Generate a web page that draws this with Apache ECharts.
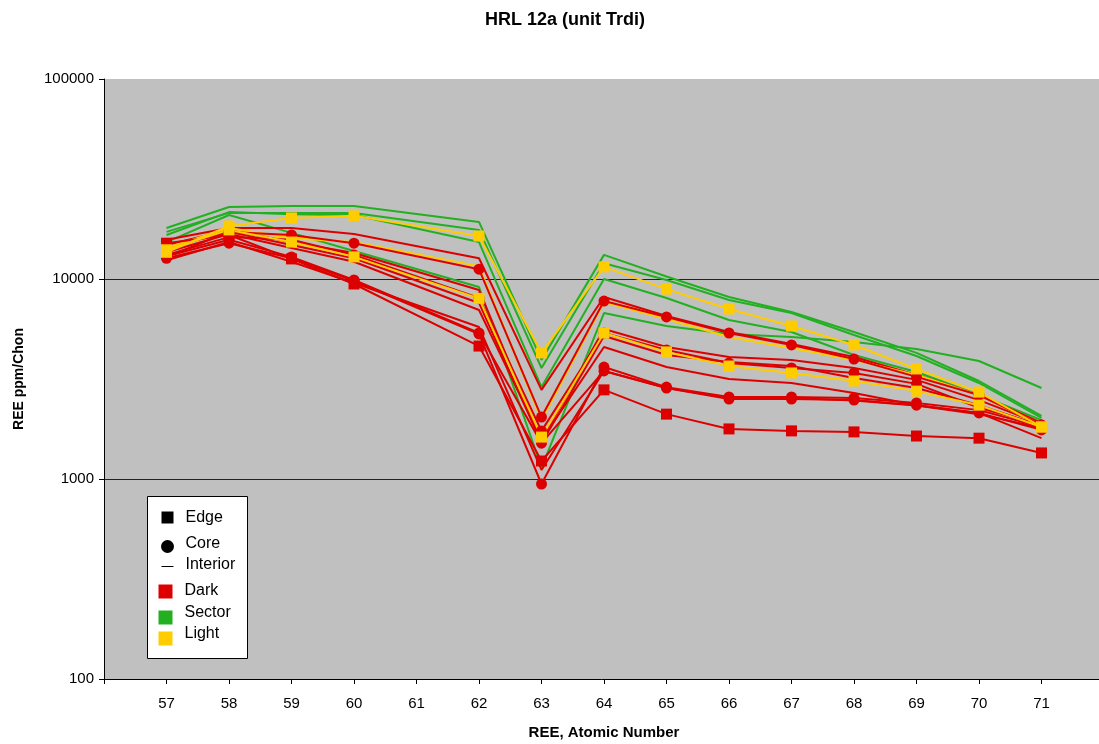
<!DOCTYPE html>
<html>
<head>
<meta charset="utf-8">
<title>HRL 12a (unit Trdi)</title>
<script src="https://cdn.jsdelivr.net/npm/echarts@6/dist/echarts.min.js"></script>
<style>
  html, body { margin: 0; padding: 0; background: #fff; }
  #chart { width: 1099px; height: 744px; }
</style>
</head>
<body>
<div id="chart"></div>
<script>
// atomic numbers that carry data (61 / Pm has none)
var atomicNumbers = [57, 58, 59, 60, 62, 63, 64, 65, 66, 67, 68, 69, 70, 71];
var tickLabels = [57, 58, 59, 60, 61, 62, 63, 64, 65, 66, 67, 68, 69, 70, 71];

// Sector (green) - interior only
var sectorA = [18000, 22900, 23200, 23200, 19300, 3940, 13200, 10300, 8130, 6840, 5430, 4270, 3090, 2070];
var sectorB = [17200, 21400, 21400, 21400, 17600, 3590, 12000, 9890, 7850, 6760, 5250, 4120, 3020, 2020];
var sectorC = [16600, 21600, 21100, 20900, 15300, 2880, 10000, 8040, 6240, 5430, 4170, 3430, 2630, 1970];
var sectorD = [15300, 20900, 17000, 13800, 9120, 1140, 6760, 5820, 5310, 5130, 4840, 4470, 3890, 2850];

// Dark (red)
var darkEdge = [15100, 16600, 12600, 9440, 4620, 1230, 2790, 2110, 1780, 1740, 1720, 1640, 1600, 1350];
var darkCoreA = [12900, 17200, 16600, 15100, 11200, 2040, 7760, 6460, 5370, 4680, 3980, 3240, 2630, 1860];
var darkCoreB = [13200, 16200, 15700, 13200, 8040, 1740, 5370, 4420, 3800, 3590, 3390, 2990, 2270, 1860];
var darkCoreC = [12700, 15100, 12700, 9770, 5310, 944, 3630, 2880, 2570, 2570, 2540, 2400, 2210, 1820];
var darkCoreD = [13000, 15700, 12900, 9890, 5370, 1510, 3470, 2850, 2510, 2510, 2480, 2340, 2140, 1760];
var darkInteriorA = [15700, 18000, 18000, 16800, 12700, 2790, 8130, 6530, 5430, 4730, 4070, 3310, 2630, 1910];
var darkInteriorB = [14800, 17600, 15300, 13500, 8810, 1570, 5620, 4570, 4070, 3940, 3590, 3130, 2480, 1880];
var darkInteriorC = [14300, 17200, 14800, 12700, 7590, 1510, 5190, 4170, 3850, 3670, 3200, 2850, 2340, 1840];
var darkInteriorD = [13600, 16800, 14300, 12200, 7000, 1570, 4570, 3630, 3160, 3020, 2690, 2340, 2140, 1600];
var darkInteriorE = [12400, 15300, 12200, 9550, 5750, 1110, 3470, 2850, 2540, 2540, 2470, 2330, 2110, 1800];

// Light (yellow)
var lightEdgeA = [13600, 18400, 20200, 20700, 16400, 4270, 11500, 8900, 7080, 5820, 4680, 3550, 2720, 1820];
var lightEdgeB = [14000, 17600, 15300, 12900, 8000, 1620, 5370, 4320, 3670, 3390, 3090, 2750, 2340, 1820];
var lightInterior = [14300, 18000, 16000, 15300, 11600, 1970, 7670, 6310, 5130, 4520, 3940, 3310, 2630, 1860];

var RED = '#DD0000', GREEN = '#22B022', YELLOW = '#FFCC00';

function makeSeries(name, values, color, symbol) {
  var pts = [];
  for (var i = 0; i < atomicNumbers.length; i++) {
    pts.push([atomicNumbers[i], values[i]]);
  }
  return {
    name: name,
    type: 'line',
    data: pts,
    symbol: symbol || 'none',
    showSymbol: !!symbol,
    symbolSize: 11,
    itemStyle: { color: color },
    lineStyle: { color: color, width: 2 },
    emphasis: { disabled: true }
  };
}

var seriesList = [
  makeSeries('Sector A', sectorA, GREEN),
  makeSeries('Sector B', sectorB, GREEN),
  makeSeries('Sector C', sectorC, GREEN),
  makeSeries('Sector D', sectorD, GREEN),
  makeSeries('Dark interior A', darkInteriorA, RED),
  makeSeries('Dark interior B', darkInteriorB, RED),
  makeSeries('Dark interior C', darkInteriorC, RED),
  makeSeries('Dark interior D', darkInteriorD, RED),
  makeSeries('Dark interior E', darkInteriorE, RED),
  makeSeries('Light interior', lightInterior, YELLOW),
  makeSeries('Dark edge', darkEdge, RED, 'rect'),
  makeSeries('Dark core A', darkCoreA, RED, 'circle'),
  makeSeries('Dark core B', darkCoreB, RED, 'circle'),
  makeSeries('Dark core C', darkCoreC, RED, 'circle'),
  makeSeries('Dark core D', darkCoreD, RED, 'circle'),
  makeSeries('Light edge A', lightEdgeA, YELLOW, 'rect'),
  makeSeries('Light edge B', lightEdgeB, YELLOW, 'rect')
];

// hand made legend box, same as the sheet
var legendFont = '16px "Liberation Sans", Arial, sans-serif';
var legendBox = {
  type: 'group',
  left: 147,
  top: 496,
  z: 100,
  children: [
    { type: 'rect', shape: { x: 0, y: 0, width: 100, height: 162 }, style: { fill: '#fff', stroke: '#000', lineWidth: 1 } },
    { type: 'rect', shape: { x: 14, y: 15, width: 12, height: 12 }, style: { fill: '#000' } },
    { type: 'text', x: 38, y: 21, style: { text: 'Edge', font: legendFont, fill: '#000', verticalAlign: 'middle' } },
    { type: 'circle', shape: { cx: 20, cy: 50, r: 6.5 }, style: { fill: '#000' } },
    { type: 'text', x: 38, y: 47, style: { text: 'Core', font: legendFont, fill: '#000', verticalAlign: 'middle' } },
    { type: 'line', shape: { x1: 14, y1: 70, x2: 26, y2: 70 }, style: { stroke: '#000', lineWidth: 1 } },
    { type: 'text', x: 38, y: 68, style: { text: 'Interior', font: legendFont, fill: '#000', verticalAlign: 'middle' } },
    { type: 'rect', shape: { x: 11, y: 88, width: 14, height: 14 }, style: { fill: RED } },
    { type: 'text', x: 37, y: 94, style: { text: 'Dark', font: legendFont, fill: '#000', verticalAlign: 'middle' } },
    { type: 'rect', shape: { x: 11, y: 114, width: 14, height: 14 }, style: { fill: GREEN } },
    { type: 'text', x: 37, y: 116, style: { text: 'Sector', font: legendFont, fill: '#000', verticalAlign: 'middle' } },
    { type: 'rect', shape: { x: 11, y: 135, width: 14, height: 14 }, style: { fill: YELLOW } },
    { type: 'text', x: 37, y: 137, style: { text: 'Light', font: legendFont, fill: '#000', verticalAlign: 'middle' } }
  ]
};

var chart = echarts.init(document.getElementById('chart'));
chart.setOption({
  animation: false,
  backgroundColor: '#fff',
  textStyle: { fontFamily: '"Liberation Sans", Arial, sans-serif' },
  title: {
    text: 'HRL 12a (unit Trdi)',
    left: 560,
    top: 6,
    textAlign: 'center',
    textStyle: { fontSize: 18, fontWeight: 'bold', color: '#000' }
  },
  grid: {
    show: true,
    left: 104,
    top: 79,
    width: 1000,
    height: 600,
    outerBoundsMode: 'none',
    containLabel: false,
    backgroundColor: '#C0C0C0',
    borderWidth: 0
  },
  xAxis: {
    type: 'value',
    min: 56,
    max: 72,
    interval: 1,
    name: 'REE, Atomic Number',
    nameLocation: 'middle',
    nameGap: 46,
    nameTextStyle: { fontSize: 15, fontWeight: 'bold', color: '#000' },
    axisLine: { lineStyle: { color: '#000', width: 1 } },
    axisTick: { length: 5, lineStyle: { color: '#000' } },
    axisLabel: {
      fontSize: 15,
      color: '#000',
      margin: 17,
      formatter: function (v) { return tickLabels.indexOf(v) >= 0 ? String(v) : ''; }
    },
    splitLine: { show: false }
  },
  yAxis: {
    type: 'log',
    logBase: 10,
    min: 100,
    max: 100000,
    name: 'REE ppm/Chon',
    nameLocation: 'middle',
    nameGap: 78,
    nameTextStyle: { fontSize: 14, fontWeight: 'bold', color: '#000' },
    axisLine: { show: true, lineStyle: { color: '#000', width: 1 } },
    axisTick: { show: true, length: 5, lineStyle: { color: '#000' } },
    axisLabel: {
      fontSize: 15,
      color: '#000',
      margin: 10,
      formatter: function (v) { return String(Math.round(v)); }
    },
    splitLine: { show: true, showMinLine: false, showMaxLine: false, lineStyle: { color: '#222', width: 1 } },
    minorTick: { show: false }
  },
  graphic: [legendBox],
  series: seriesList
});
</script>
</body>
</html>
